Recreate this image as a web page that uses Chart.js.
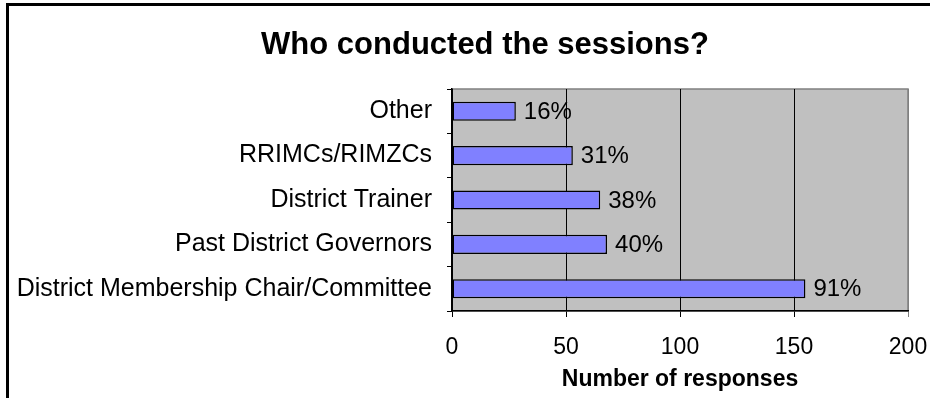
<!DOCTYPE html>
<html>
<head>
<meta charset="utf-8">
<script src="https://cdn.jsdelivr.net/npm/chart.js@4.4.1/dist/chart.umd.min.js"></script>
<style>
  body { margin: 0; background: #fff; }
  #wrap { position: relative; width: 930px; height: 398px; overflow: hidden; }
  #frame { position: absolute; left: 6px; top: 3px; width: 1000px; height: 500px; border-left: 3px solid #000; border-top: 3px solid #000; }
  #sessionsChart { position: absolute; left: 0; top: 0; }
</style>
</head>
<body>
<div id="wrap">
  <div id="frame"></div>
  <canvas id="sessionsChart" width="930" height="398"></canvas>
</div>
<script>
// Who ran the sessions, counted per response
const conductors = ['Other', 'RRIMCs/RIMZCs', 'District Trainer', 'Past District Governors', 'District Membership Chair/Committee'];
const responses = [28, 53, 65, 68, 155];
const totalRespondents = 170;
const xTicks = [0, 50, 100, 150, 200];
const chartTitle = 'Who conducted the sessions?';

const FONT = '"Liberation Sans", Arial, sans-serif';

// gray plot background with a soft border
const plotBackground = {
  id: 'plotBackground',
  beforeDraw(chart) {
    const { ctx, chartArea: a } = chart;
    ctx.save();
    ctx.fillStyle = '#c0c0c0';
    ctx.fillRect(a.left, a.top, a.right - a.left, a.bottom - a.top);
    ctx.strokeStyle = '#808080';
    ctx.lineWidth = 1.5;
    ctx.strokeRect(a.left, a.top, a.right - a.left, a.bottom - a.top);
    ctx.restore();
  }
};

// heading sits a bit right of the canvas centre
const heading = {
  id: 'heading',
  afterDraw(chart) {
    const { ctx } = chart;
    ctx.save();
    ctx.font = 'bold 31px ' + FONT;
    ctx.fillStyle = '#000';
    ctx.textAlign = 'center';
    ctx.textBaseline = 'middle';
    ctx.fillText(chartTitle, 485, 45);
    ctx.restore();
  }
};

// percentage labels just past the end of each bar
const percentLabels = {
  id: 'percentLabels',
  afterDatasetsDraw(chart) {
    const { ctx } = chart;
    const meta = chart.getDatasetMeta(0);
    ctx.save();
    ctx.font = '24px ' + FONT;
    ctx.fillStyle = '#000';
    ctx.textAlign = 'left';
    ctx.textBaseline = 'middle';
    meta.data.forEach((bar, i) => {
      const pct = Math.round(responses[i] / totalRespondents * 100);
      ctx.fillText(pct + '%', bar.x + 8, bar.y + 1);
    });
    ctx.restore();
  }
};

new Chart(document.getElementById('sessionsChart'), {
  type: 'bar',
  data: {
    labels: conductors,
    datasets: [{
      data: responses,
      backgroundColor: '#8080ff',
      borderColor: '#000',
      borderWidth: 1.5,
      borderSkipped: false,
      categoryPercentage: 1,
      barPercentage: 0.43
    }]
  },
  options: {
    indexAxis: 'y',
    responsive: false,
    animation: false,
    layout: { padding: { left: 0, right: 22, top: 89, bottom: 0 } },
    plugins: {
      legend: { display: false },
      tooltip: { enabled: false },
      title: { display: false }
    },
    scales: {
      x: {
        min: 0,
        max: 200,
        afterBuildTicks(scale) { scale.ticks = xTicks.map(v => ({ value: v })); },
        afterFit(scale) {
          scale.height = 87;
          scale.paddingLeft = 0;
          scale.paddingRight = 0;
        },
        grid: {
          color: ctx => (ctx.tick && ctx.tick.value === 200 ? '#808080' : '#000'),
          lineWidth: 1,
          tickLength: 6,
          drawOnChartArea: true
        },
        border: { color: '#000', width: 1.5 },
        ticks: {
          color: '#000',
          padding: 17,
          font: { family: FONT, size: 23 }
        },
        title: {
          display: true,
          text: 'Number of responses',
          color: '#000',
          font: { family: FONT, size: 23, weight: 'bold' },
          padding: { top: 0, bottom: 5 }
        }
      },
      y: {
        offset: true,
        afterFit(scale) {
          scale.width = 452;
          scale.paddingTop = 0;
          scale.paddingBottom = 0;
        },
        grid: {
          offset: true,
          drawOnChartArea: false,
          color: '#000',
          tickLength: 5
        },
        border: { color: '#000', width: 1.5 },
        ticks: {
          color: '#000',
          padding: 15,
          font: { family: FONT, size: 25 }
        }
      }
    }
  },
  plugins: [plotBackground, percentLabels, heading]
});
</script>
</body>
</html>
